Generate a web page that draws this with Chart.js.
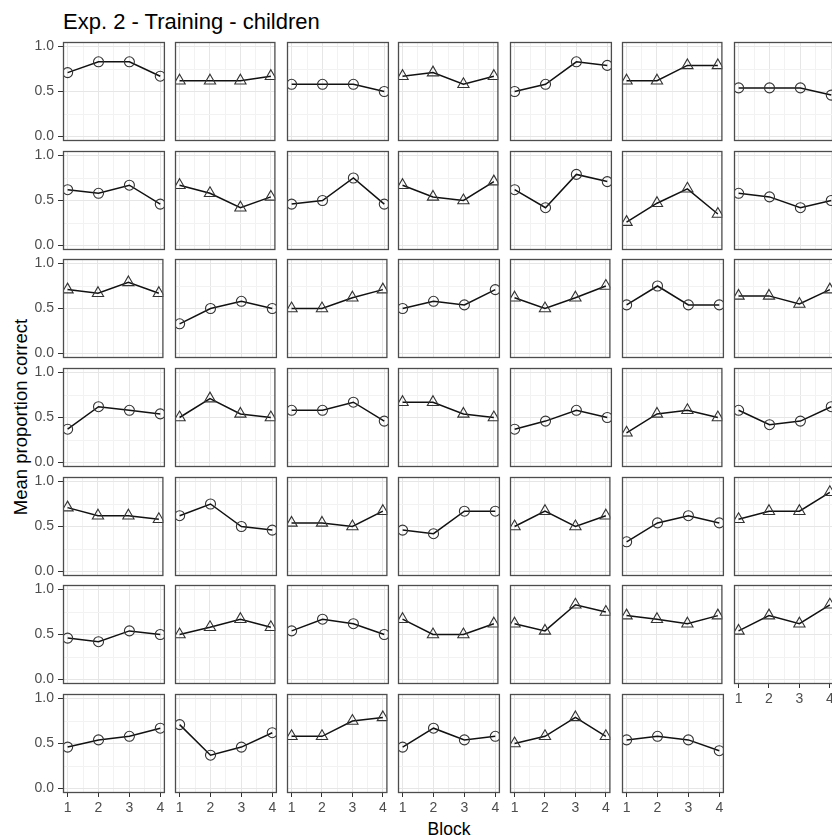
<!DOCTYPE html>
<html>
<head>
<meta charset="utf-8">
<script src="https://cdn.jsdelivr.net/npm/chart.js@4"></script>
<style>
  body { margin: 0; background: #fff; }
  #wrap { position: relative; width: 832px; height: 838px; overflow: hidden; font-family: 'Liberation Sans', Arial, sans-serif; }
  #wrap canvas { position: absolute; }
  .txt { position: absolute; white-space: nowrap; color: #000; }
</style>
</head>
<body>
<div id="wrap">
  <div class="txt" id="title" style="left:63px; top:11px; font-size:22px; line-height:22px;">Exp. 2 - Training - children</div>
  <div class="txt" id="ylab" style="left:20px; top:417px; font-size:18.5px; line-height:19px; transform: translate(-50%, -50%) rotate(-90deg);">Mean proportion correct</div>
  <div class="txt" id="xlab" style="left:449px; top:829px; font-size:17.5px; line-height:18px; transform: translate(-50%, -50%);">Block</div>
</div>
<script>
// blocks on the x axis
var blocks = [1, 2, 3, 4];
var yTickValues = [0, 0.5, 1];
var yTickLabels = ['0.0', '0.5', '1.0'];
var yMinor = [0.25, 0.75];
var xMinor = [1.5, 2.5, 3.5];

// mean proportion correct, one array per panel, 7 panels per row
var row1 = [[0.71, 0.83, 0.83, 0.67], [0.62, 0.62, 0.62, 0.67], [0.58, 0.58, 0.58, 0.50], [0.67, 0.71, 0.58, 0.67], [0.50, 0.58, 0.83, 0.79], [0.62, 0.62, 0.79, 0.79], [0.54, 0.54, 0.54, 0.46]];
var row2 = [[0.62, 0.58, 0.67, 0.46], [0.67, 0.58, 0.42, 0.54], [0.46, 0.50, 0.75, 0.46], [0.67, 0.54, 0.50, 0.71], [0.62, 0.42, 0.79, 0.71], [0.26, 0.47, 0.63, 0.35], [0.58, 0.54, 0.42, 0.50]];
var row3 = [[0.71, 0.67, 0.79, 0.67], [0.33, 0.50, 0.58, 0.50], [0.50, 0.50, 0.62, 0.71], [0.50, 0.58, 0.54, 0.71], [0.62, 0.50, 0.62, 0.75], [0.54, 0.75, 0.54, 0.54], [0.64, 0.64, 0.55, 0.71]];
var row4 = [[0.37, 0.62, 0.58, 0.54], [0.50, 0.71, 0.54, 0.50], [0.58, 0.58, 0.67, 0.46], [0.67, 0.67, 0.54, 0.50], [0.37, 0.46, 0.58, 0.50], [0.33, 0.54, 0.58, 0.50], [0.58, 0.42, 0.46, 0.62]];
var row5 = [[0.71, 0.62, 0.62, 0.58], [0.62, 0.75, 0.50, 0.46], [0.54, 0.54, 0.50, 0.67], [0.46, 0.42, 0.67, 0.67], [0.50, 0.67, 0.50, 0.62], [0.33, 0.54, 0.62, 0.54], [0.58, 0.67, 0.67, 0.88]];
var row6 = [[0.46, 0.42, 0.54, 0.50], [0.50, 0.58, 0.67, 0.58], [0.54, 0.67, 0.62, 0.50], [0.67, 0.50, 0.50, 0.62], [0.62, 0.54, 0.83, 0.75], [0.71, 0.67, 0.62, 0.71], [0.54, 0.71, 0.62, 0.83]];
var row7 = [[0.46, 0.54, 0.58, 0.67], [0.71, 0.37, 0.46, 0.62], [0.58, 0.58, 0.75, 0.79], [0.46, 0.67, 0.54, 0.58], [0.50, 0.58, 0.79, 0.58], [0.54, 0.58, 0.54, 0.42]];

// marker per panel (c = circle, t = triangle)
var shapes1 = ['c', 't', 'c', 't', 'c', 't', 'c'];
var shapes2 = ['c', 't', 'c', 't', 'c', 't', 'c'];
var shapes3 = ['t', 'c', 't', 'c', 't', 'c', 't'];
var shapes4 = ['c', 't', 'c', 't', 'c', 't', 'c'];
var shapes5 = ['t', 'c', 't', 'c', 't', 'c', 't'];
var shapes6 = ['c', 't', 'c', 't', 't', 't', 't'];
var shapes7 = ['c', 'c', 't', 'c', 't', 'c'];

var rows = [row1, row2, row3, row4, row5, row6, row7];
var shapeRows = [shapes1, shapes2, shapes3, shapes4, shapes5, shapes6, shapes7];

var PW = 102, PH = 99;          // panel size
var L = 50, T = 8, R = 6, B = 28; // canvas margins around the panel
var font = "'Liberation Sans', Arial, sans-serif";

// panel border drawn on top, like theme_bw
var framePlugin = {
  id: 'frame',
  afterDraw: function(chart) {
    var a = chart.chartArea, ctx = chart.ctx;
    ctx.save();
    ctx.strokeStyle = '#4d4d4d';
    ctx.lineWidth = 1.3;
    ctx.strokeRect(a.left + 0.5, a.top + 0.5, a.right - a.left - 1, a.bottom - a.top - 1);
    ctx.restore();
  }
};

// keep the plot area fixed: no extra room for overhanging tick labels
function noPad(s) {
  s.paddingTop = 0; s.paddingBottom = 0; s.paddingLeft = 0; s.paddingRight = 0;
}

var wrap = document.getElementById('wrap');
var nPanels = 0;
rows.forEach(function(r) { nPanels += r.length; });

rows.forEach(function(rowData, r) {
  rowData.forEach(function(vals, c) {
    var idx = r * 7 + c;
    var showY = c === 0;
    var showX = idx + 7 >= nPanels; // nothing below this panel
    var left = Math.round(63 + c * 111.83);
    var top = Math.round(42 + r * 108.67);

    var canvas = document.createElement('canvas');
    canvas.width = PW + L + R;
    canvas.height = PH + T + B;
    canvas.style.left = (left - L) + 'px';
    canvas.style.top = (top - T) + 'px';
    wrap.appendChild(canvas);

    var tri = shapeRows[r][c] === 't';
    var pts = blocks.map(function(b, i) { return { x: b, y: vals[i] }; });

    new Chart(canvas.getContext('2d'), {
      type: 'line',
      data: {
        datasets: [{
          data: pts,
          borderColor: '#111111',
          borderWidth: 1.5,
          pointStyle: tri ? 'triangle' : 'circle',
          pointRadius: tri ? 6.5 : 5,
          pointBorderColor: '#333333',
          pointBorderWidth: 1.1,
          pointBackgroundColor: 'rgba(0,0,0,0)',
          tension: 0
        }]
      },
      options: {
        responsive: false,
        animation: false,
        devicePixelRatio: 1,
        layout: { padding: { left: 0, top: T, right: R, bottom: 0 } },
        plugins: { legend: { display: false }, tooltip: { enabled: false } },
        scales: {
          x: {
            type: 'linear',
            min: 0.85,
            max: 4.15,
            afterBuildTicks: function(s) {
              s.ticks = blocks.concat(xMinor).sort().map(function(v) { return { value: v }; });
            },
            afterFit: function(s) { s.height = B; noPad(s); },
            border: { display: false },
            grid: {
              color: function(ctx) { return blocks.indexOf(ctx.tick.value) >= 0 ? '#e6e6e6' : '#f2f2f2'; },
              lineWidth: 1,
              drawTicks: showX,
              tickLength: 4,
              tickWidth: 1,
              tickColor: function(ctx) { return blocks.indexOf(ctx.tick.value) >= 0 ? '#333333' : 'rgba(0,0,0,0)'; }
            },
            ticks: {
              display: showX,
              autoSkip: false,
              maxRotation: 0,
              padding: 3,
              color: '#4d4d4d',
              font: { family: font, size: 14 },
              callback: function(v) { return blocks.indexOf(v) >= 0 ? String(v) : ''; }
            }
          },
          y: {
            type: 'linear',
            min: -0.05,
            max: 1.05,
            afterBuildTicks: function(s) {
              s.ticks = yTickValues.concat(yMinor).sort().map(function(v) { return { value: v }; });
            },
            afterFit: function(s) { s.width = L; noPad(s); },
            border: { display: false },
            grid: {
              color: function(ctx) { return yTickValues.indexOf(ctx.tick.value) >= 0 ? '#e6e6e6' : '#f2f2f2'; },
              lineWidth: 1,
              drawTicks: showY,
              tickLength: 5,
              tickWidth: 1,
              tickColor: function(ctx) { return yTickValues.indexOf(ctx.tick.value) >= 0 ? '#333333' : 'rgba(0,0,0,0)'; }
            },
            ticks: {
              display: showY,
              autoSkip: false,
              padding: 4,
              color: '#4d4d4d',
              font: { family: font, size: 14 },
              callback: function(v) {
                var k = yTickValues.indexOf(v);
                return k >= 0 ? yTickLabels[k] : '';
              }
            }
          }
        }
      },
      plugins: [framePlugin]
    });
  });
});
</script>
</body>
</html>
